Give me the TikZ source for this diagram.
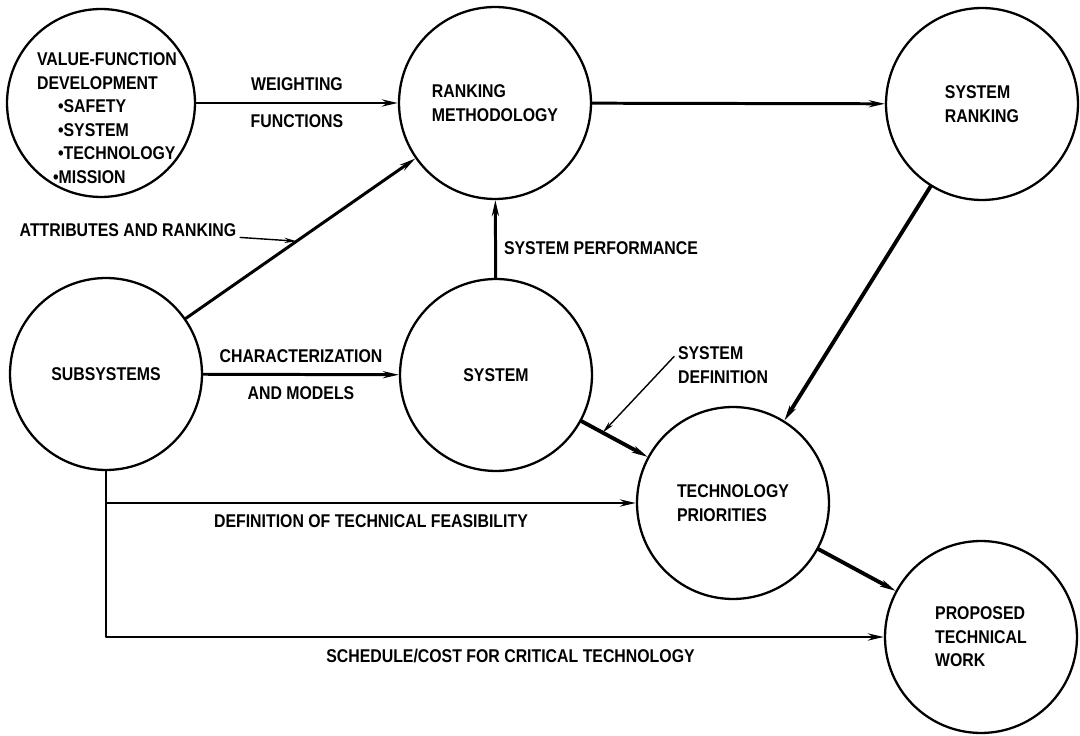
\documentclass[tikz,border=0pt]{standalone}
\usepackage{fontspec}
\setmainfont{Liberation Sans}[FakeStretch=0.86]
\usetikzlibrary{arrows.meta,calc}

\begin{document}
\begin{tikzpicture}[x=0.02cm, y=-0.02cm, font=\fontsize{10.5}{13.4}\selectfont\bfseries, line join=round, line cap=round, >={Stealth[length=9pt,width=4pt]},
	blob/.style={circle, draw, line width=1.3pt, minimum size=3.84cm, inner sep=0pt, align=left},
	conn/.style={->, line width=1.7pt},
	heavy/.style={->, line width=2.2pt},
	lead/.style={-{Stealth[length=7pt,width=3pt]}, line width=0.8pt},
	lab/.style={inner sep=2pt}]
				\useasboundingbox (0,0) rectangle (1080,736);
				
				\node [blob, minimum size=3.76cm] (vf) at (101,103) {};
				\node [align=left] (vftxt) at (107,118) {VALUE-FUNCTION\\DEVELOPMENT\\\hspace*{0.42cm}\textbullet SAFETY\\\hspace*{0.42cm}\textbullet SYSTEM\\\hspace*{0.42cm}\textbullet TECHNOLOGY\\\hspace*{0.32cm}\textbullet MISSION};
				\node [blob] (rm) at (495,103) {RANKING\\METHODOLOGY};
				\node [blob] (sr) at (982,104) {SYSTEM\\RANKING};
				\node [blob] (sub) at (106,374) {SUBSYSTEMS};
				\node [blob] (sys) at (496,375) {SYSTEM};
				\node [blob] (tp) at (733,503) {TECHNOLOGY\\PRIORITIES};
				\node [blob] (ptw) at (981,637) {PROPOSED\\TECHNICAL\\WORK};
				
				\draw [conn] (vf) -- node [lab, above=4pt] {WEIGHTING} node [lab, below=4pt] {FUNCTIONS} (rm);
				\draw [conn] (rm) -- (sr);
				\draw [conn] (sub) -- (rm);
				\draw [conn] (sub) -- node [lab, above=4pt] {CHARACTERIZATION} node [lab, below=4pt] {AND MODELS} (sys);
				\draw [conn] (sys) -- node [lab, right=2pt, pos=0.38] {SYSTEM PERFORMANCE} (rm);
				\draw [heavy] (sr) -- (tp);
				\draw [heavy] (sys) -- (tp);
				\draw [heavy] (tp) -- (ptw);
				\draw [conn] (sub) |- node [lab, below=4pt, pos=0.75] {DEFINITION OF TECHNICAL FEASIBILITY} (tp);
				\draw [conn] (sub) |- node [lab, below=4pt, pos=0.76] {SCHEDULE/COST FOR CRITICAL TECHNOLOGY} (ptw);
				
				%leader arrows
				\coordinate (ar) at ($(sub)!0.49!(rm)$);
				\node [lab] (atr) at (128,230) {ATTRIBUTES AND RANKING};
				\draw [lead] (atr) -- (ar);
				\coordinate (sd) at ($(sys)!0.45!(tp)$);
				\node [lab, align=left] (sdl) at (723,365) {SYSTEM\\DEFINITION};
				\draw [lead] (sdl.170) -- (sd);
			\end{tikzpicture}
\end{document}
